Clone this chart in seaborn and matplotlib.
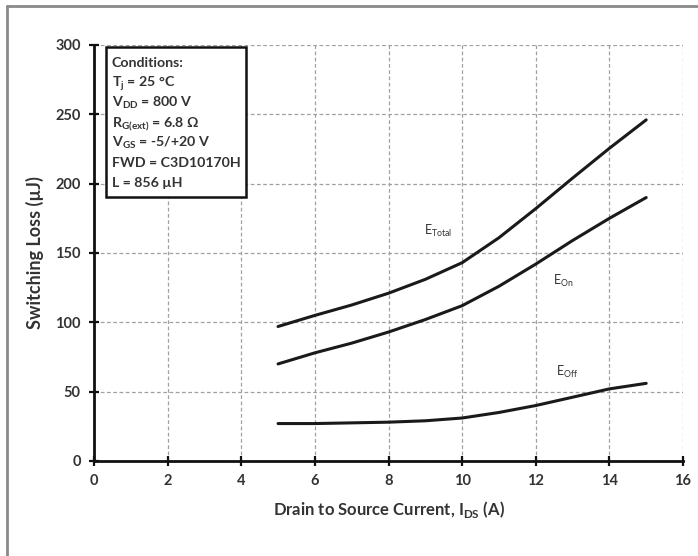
import matplotlib
matplotlib.use("Agg")
import matplotlib.pyplot as plt
import seaborn as sns
import pandas as pd
from matplotlib.lines import Line2D
from matplotlib.patches import Rectangle

# ---- data ----
current_a = [5, 6, 7, 8, 9, 10, 11, 12, 13, 14, 15]
e_total = [97, 105, 112.5, 121, 131, 143, 161, 182, 204, 225.5, 246]
e_on = [70, 78, 85, 93, 102, 112, 126, 142, 159, 175, 190]
e_off = [27, 27, 27.5, 28, 29, 31, 35, 40, 46, 52, 56]
x_ticks = [0, 2, 4, 6, 8, 10, 12, 14, 16]
y_ticks = [0, 50, 100, 150, 200, 250, 300]
conditions = [
    "Conditions:",
    "T$_\\mathregular{j}$ = 25 °C",
    "V$_\\mathregular{DD}$ = 800 V",
    "R$_\\mathregular{G(ext)}$ = 6.8 Ω",
    "V$_\\mathregular{GS}$ = -5/+20 V",
    "FWD = C3D10170H",
    "L = 856 µH",
]

sns.set_theme(style="white")
plt.rcParams['font.family'] = ['Lato', 'DejaVu Sans']
plt.rcParams['mathtext.fontset'] = 'custom'
plt.rcParams['mathtext.rm'] = 'Lato'
plt.rcParams['mathtext.bf'] = 'Lato:bold'

df = pd.DataFrame({"I": current_a, "Total": e_total, "On": e_on, "Off": e_off})

W, H = 698, 556
fig = plt.figure(figsize=(W/100, H/100), dpi=100)
ax_l, ax_r, ax_t, ax_b = 94, 683, 45, 461
ax = fig.add_axes([ax_l/W, 1-ax_b/H, (ax_r-ax_l)/W, (ax_b-ax_t)/H])

for col in ["Total", "On", "Off"]:
    sns.lineplot(data=df, x="I", y=col, ax=ax, color="#1a1a1a", linewidth=2.2)

ax.set_xlim(0, 16)
ax.set_ylim(0, 300)
ax.set_xticks(x_ticks)
ax.set_yticks(y_ticks)
ax.set_xticklabels([str(v) for v in x_ticks], fontweight="bold", fontsize=10.5, color="#333333")
ax.set_yticklabels([str(v) for v in y_ticks], fontweight="bold", fontsize=10.5, color="#333333")
ax.grid(True, linestyle=(0, (3, 2)), color="#a0a0a0", linewidth=0.9)
for s in ["top", "right"]:
    ax.spines[s].set_visible(False)
for s in ["left", "bottom"]:
    ax.spines[s].set_color("#111111")
    ax.spines[s].set_linewidth(2)
ax.tick_params(axis="both", direction="inout", length=7, width=1.6, color="#111111",
               bottom=True, left=True, pad=6)
ax.set_xlabel("Drain to Source Current, I$_\\mathregular{DS}$ (A)", fontweight="bold",
              fontsize=12, color="#333333", labelpad=8)
ax.set_ylabel("Switching Loss (µJ)", fontweight="bold", fontsize=13, color="#333333", labelpad=8)

# curve labels
ax.text(9.35, 166, "E$_\\mathregular{Total}$", fontsize=9, color="#333333", ha="center", va="center")
ax.text(12.75, 130, "E$_\\mathregular{On}$", fontsize=9, color="#333333", ha="center", va="center")
ax.text(12.85, 64, "E$_\\mathregular{Off}$", fontsize=9, color="#333333", ha="center", va="center")

# conditions box (pixel positions converted to axes fraction)
def fx(px):
    return (px - ax_l) / (ax_r - ax_l)

def fy(py):
    return (ax_b - py) / (ax_b - ax_t)

ax.add_patch(Rectangle((fx(106), fy(197)), fx(246) - fx(106), fy(47) - fy(197),
                       transform=ax.transAxes, facecolor="white", edgecolor="#111111",
                       linewidth=1.8, zorder=5))
for i, line in enumerate(conditions):
    ax.text(fx(112), fy(67 + 20 * i), line, transform=ax.transAxes, ha="left", va="baseline",
            fontsize=10.2, fontweight="bold", color="#333333", zorder=6)

# outer frame (left and top edges)
fig.add_artist(Line2D([7/W, 7/W], [0, 1-6/H], transform=fig.transFigure, color="#8a8a8a", linewidth=2))
fig.add_artist(Line2D([7/W, 1], [1-6/H, 1-6/H], transform=fig.transFigure, color="#8a8a8a", linewidth=2))

fig.savefig("out.png", dpi=100, facecolor="white")
